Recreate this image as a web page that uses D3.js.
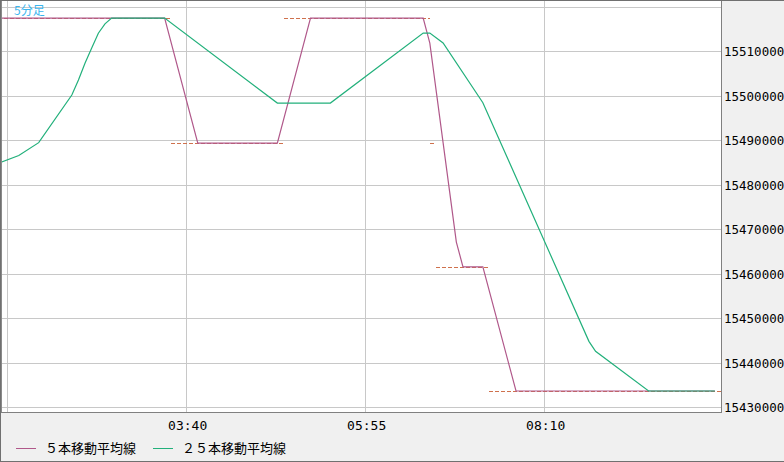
<!DOCTYPE html>
<html>
<head>
<meta charset="utf-8">
<script src="https://d3js.org/d3.v7.min.js"></script>
<style>
  body { margin: 0; background: #f0f0f0; overflow: hidden; }
  .ylab, .xlab { font-family: "DejaVu Sans Mono", monospace; fill: #000; }
  .legend text { font-family: "Noto Sans CJK JP", sans-serif; font-size: 13px; fill: #000; }
</style>
</head>
<body>
<svg id="chart" width="784" height="462"></svg>
<script>
// bar index (5 minute bars) where each moving average bends
const ma5Bars = [0, 25, 30, 42, 47, 64, 65, 66, 67, 68, 69, 70, 73, 78, 108];
const ma5Values = [155174000, 155174000, 154893000, 154893000, 155174000, 155174000, 155117800, 155006000,
                   154894200, 154782400, 154670600, 154615000, 154615000, 154336000, 154336000];

const ma25Bars = [0, 3, 6, 11, 12, 13, 14, 15, 16, 17, 25, 42, 50, 64, 65, 67, 73, 89, 90, 98, 108];
const ma25Values = [154848000, 154865000, 154894000, 155001000, 155035000, 155073000, 155107000, 155140000,
                    155161000, 155174000, 155174000, 154982920, 154982920, 155140280, 155140280, 155118040,
                    154983880, 154447560, 154425280, 154336000, 154336000];

// price held between bars, drawn dashed under the averages
const stepFrom = [-2, 26, 43, 65, 66, 74];
const stepTo = [26, 43, 65, 66, 74, 109];
const stepPrice = [155174000, 154893000, 155174000, 154893000, 154615000, 154336000];

const xTickBars = [1.25, 28.25, 55.25, 82.25];
const xTickLabels = ["01:25", "03:40", "05:55", "08:10"];
const yGridValues = [154300000, 154400000, 154500000, 154600000, 154700000, 154800000, 154900000, 155000000, 155100000, 155200000];
const yLabelValues = [154300000, 154400000, 154500000, 154600000, 154700000, 154800000, 154900000, 155000000, 155100000];

const seriesNames = ["５本移動平均線", "２５本移動平均線"];
const seriesColors = ["#b0588a", "#22b07b"];
const stepColor = "#cf714d";

const svg = d3.select("svg#chart");
const plot = { left: 1, top: 1, right: 721, bottom: 412 };

const x = d3.scaleLinear().domain([0, 108]).range([-1.1, 714.9]);
const y = d3.scaleLinear().domain([154300000, 155200000]).range([407, 6.5]);

svg.append("rect").attr("width", 784).attr("height", 462).attr("fill", "#f0f0f0");
svg.append("rect")
   .attr("x", plot.left).attr("y", plot.top)
   .attr("width", plot.right - plot.left).attr("height", plot.bottom - plot.top)
   .attr("fill", "#fff");

svg.append("defs").append("clipPath").attr("id", "plotclip")
   .append("rect")
   .attr("x", plot.left + 1).attr("y", plot.top)
   .attr("width", plot.right - plot.left - 1).attr("height", plot.bottom - plot.top);

// gridlines
let grid = svg.append("g").attr("id", "grid").attr("shape-rendering", "crispEdges");
grid.selectAll("line.h").data(yGridValues).join("line")
    .attr("class", "h")
    .attr("x1", plot.left).attr("x2", plot.right)
    .attr("y1", d => Math.round(y(d)) + 0.5).attr("y2", d => Math.round(y(d)) + 0.5)
    .attr("stroke", "#c8c8c8");
grid.selectAll("line.v").data(xTickBars).join("line")
    .attr("class", "v")
    .attr("x1", d => Math.round(x(d)) + 0.5).attr("x2", d => Math.round(x(d)) + 0.5)
    .attr("y1", plot.top).attr("y2", plot.bottom)
    .attr("stroke", "#c8c8c8");

let marks = svg.append("g").attr("clip-path", "url(#plotclip)");

// dashed price steps
marks.selectAll("line.step").data(stepPrice).join("line")
     .attr("class", "step")
     .attr("x1", (d, i) => x(stepFrom[i])).attr("x2", (d, i) => x(stepTo[i]))
     .attr("y1", d => Math.round(y(d)) + 0.5).attr("y2", d => Math.round(y(d)) + 0.5)
     .attr("stroke", stepColor)
     .attr("stroke-dasharray", "4,2")
     .attr("shape-rendering", "crispEdges");

const line = d3.line().x(d => x(d[0])).y(d => y(d[1]));

marks.append("path")
     .datum(ma5Bars.map((b, i) => [b, ma5Values[i]]))
     .attr("d", line)
     .attr("fill", "none")
     .attr("stroke", seriesColors[0])
     .attr("stroke-width", 1.2);

marks.append("path")
     .datum(ma25Bars.map((b, i) => [b, ma25Values[i]]))
     .attr("d", line)
     .attr("fill", "none")
     .attr("stroke", seriesColors[1])
     .attr("stroke-width", 1.2);

// frame
let frame = svg.append("g").attr("shape-rendering", "crispEdges");
frame.append("line").attr("x1", plot.right + 0.5).attr("x2", plot.right + 0.5)
     .attr("y1", 0).attr("y2", plot.bottom + 1).attr("stroke", "#808080");
frame.append("line").attr("x1", 0).attr("x2", plot.right + 1)
     .attr("y1", plot.bottom + 0.5).attr("y2", plot.bottom + 0.5).attr("stroke", "#808080");
frame.append("line").attr("x1", 1.5).attr("x2", 1.5)
     .attr("y1", 0).attr("y2", plot.bottom).attr("stroke", "#8a8a8a");
frame.append("rect").attr("x", 0.5).attr("y", 0.5).attr("width", 900).attr("height", 461)
     .attr("fill", "none").attr("stroke", "#707070");

// axis labels
svg.selectAll("text.ylab").data(yLabelValues).join("text")
   .attr("class", "ylab")
   .attr("x", 724)
   .attr("y", d => Math.round(y(d)) + 5)
   .style("font-size", "12.5px")
   .text(d => d3.format("d")(d));

svg.selectAll("text.xlab").data(xTickBars.filter(d => x(d) > 30)).join("text")
   .attr("class", "xlab")
   .attr("x", d => x(d) + 1.5)
   .attr("y", 429.5)
   .attr("text-anchor", "middle")
   .style("font-size", "13px")
   .text(d => xTickLabels[xTickBars.indexOf(d)]);

svg.append("text")
   .attr("x", 14).attr("y", 14.5)
   .style("font-family", "'Noto Sans CJK JP', sans-serif")
   .style("font-size", "12px")
   .style("fill", "#3ab6ef")
   .text("5分足");

// legend
let legend = svg.append("g").attr("class", "legend");
const legendX = [16, 153];
seriesNames.forEach((name, i) => {
  legend.append("line")
        .attr("x1", legendX[i]).attr("x2", legendX[i] + 20)
        .attr("y1", 448.5).attr("y2", 448.5)
        .attr("stroke", seriesColors[i])
        .attr("shape-rendering", "crispEdges");
  legend.append("text")
        .attr("x", legendX[i] + 29)
        .attr("y", 453)
        .text(name);
});
</script>
</body>
</html>
